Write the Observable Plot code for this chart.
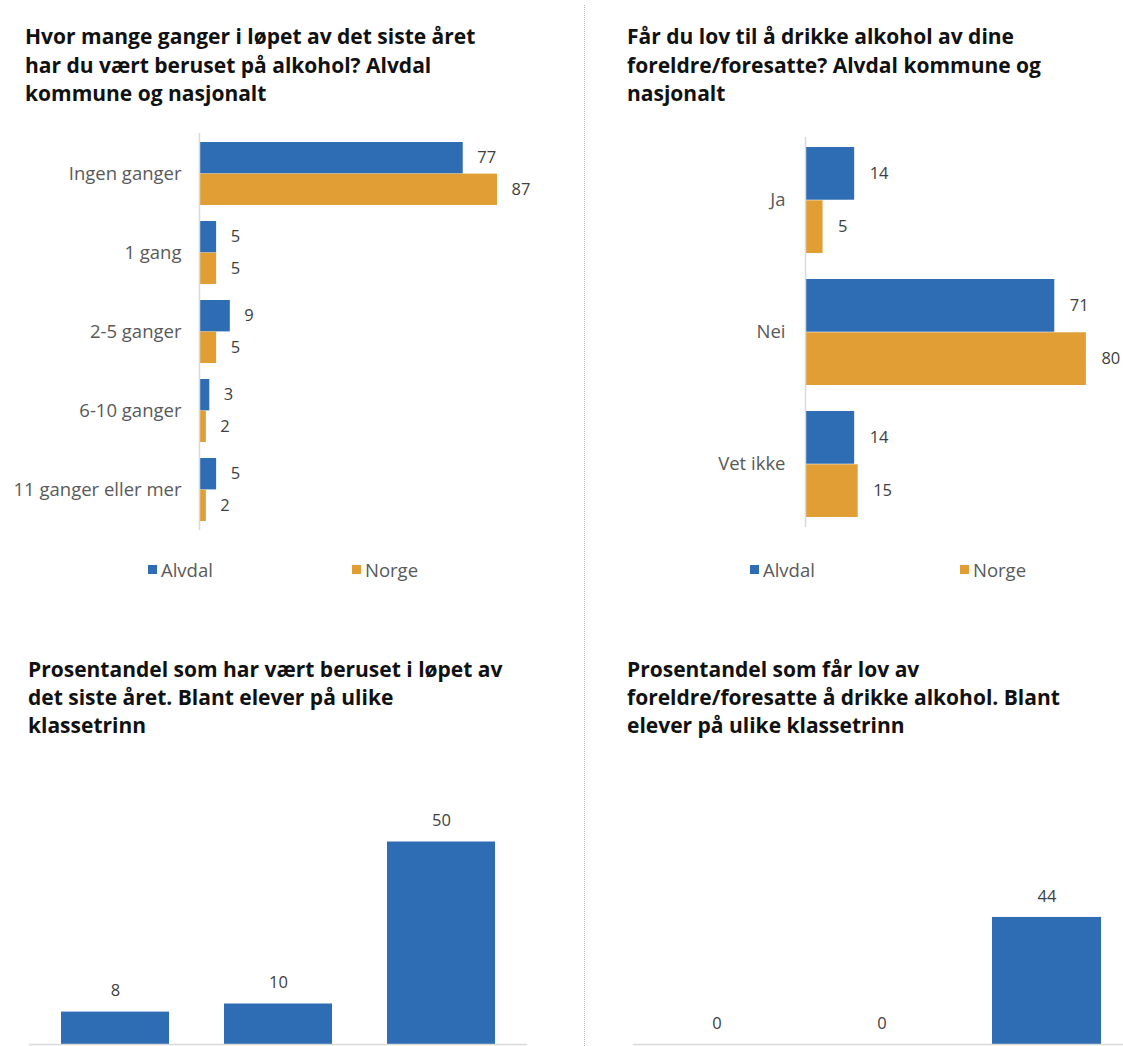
<!DOCTYPE html>
<html>
<head>
<meta charset="utf-8">
<script src="https://cdn.jsdelivr.net/npm/d3@7"></script>
<script src="https://cdn.jsdelivr.net/npm/@observablehq/plot@0.6"></script>
<style>
  html, body { margin: 0; padding: 0; background: #fff; overflow: hidden; }
  #root { position: relative; width: 1123px; height: 1046px; overflow: hidden; background: #fff; }
  .title { position: absolute; font-family: "Open Sans", sans-serif; font-weight: bold; font-size: 21px; color: #111; white-space: nowrap; }
  .legend { position: absolute; font-family: "Open Sans", sans-serif; font-size: 18.5px; color: #595959; display: flex; align-items: center; }
  .legend .sw { display: inline-block; width: 9px; height: 9px; margin-right: 4px; }
  .chart { position: absolute; }
  #divider { position: absolute; left: 584px; top: 5px; height: 1041px; border-left: 1px dotted #b8b8b8; }
</style>
</head>
<body>
<div id="root">
  <div id="divider"></div>
  <div class="title" style="left:25px;top:22px;line-height:28.5px">Hvor mange ganger i løpet av det siste året<br>har du vært beruset på alkohol? Alvdal<br>kommune og nasjonalt</div>
  <div class="title" style="left:627px;top:22px;line-height:28.5px">Får du lov til å drikke alkohol av dine<br>foreldre/foresatte? Alvdal kommune og<br>nasjonalt</div>
  <div class="title" style="left:28px;top:655px;line-height:28px">Prosentandel som har vært beruset i løpet av<br>det siste året. Blant elever på ulike<br>klassetrinn</div>
  <div class="title" style="left:627px;top:655px;line-height:28px">Prosentandel som får lov av<br>foreldre/foresatte å drikke alkohol. Blant<br>elever på ulike klassetrinn</div>
</div>
<script>
// ---- data ----
const series = ["Alvdal", "Norge"];
const seriesColors = ["#2E6DB4", "#E09E35"];

const catsDrunk = ["Ingen ganger", "1 gang", "2-5 ganger", "6-10 ganger", "11 ganger eller mer"];
const alvdalDrunk = [77, 5, 9, 3, 5];
const norgeDrunk = [87, 5, 5, 2, 2];

const catsAllowed = ["Ja", "Nei", "Vet ikke"];
const alvdalAllowed = [14, 71, 14];
const norgeAllowed = [5, 80, 15];

const grades = ["8. trinn", "9. trinn", "10. trinn"];
const drunkByGrade = [8, 10, 50];
const allowedByGrade = [0, 0, 44];

// ---- helpers ----
const root = document.getElementById("root");
const labelFont = "'Open Sans', sans-serif";
const gray = "#595959";
const axisGray = "#d9d9d9";

function place(el, left, top) {
  el.classList.add("chart");
  el.style.left = left + "px";
  el.style.top = top + "px";
  root.appendChild(el);
}

function groupedBars(o) {
  const rows = [];
  o.cats.forEach((c, i) => {
    rows.push({cat: c, series: series[0], value: o.a[i]});
    rows.push({cat: c, series: series[1], value: o.n[i]});
  });
  const bw = d3.scaleBand().domain(o.cats)
    .range([o.marginTop, o.height - o.marginBottom])
    .paddingInner(o.pi).paddingOuter(o.po).bandwidth();
  const A = rows.filter(d => d.series === series[0]);
  const N = rows.filter(d => d.series === series[1]);
  const chart = Plot.plot({
    width: o.width, height: o.height,
    marginLeft: o.marginLeft, marginRight: o.marginRight,
    marginTop: o.marginTop, marginBottom: o.marginBottom,
    style: {fontFamily: labelFont, color: gray, background: "transparent", overflow: "visible"},
    x: {domain: [0, o.xMax], axis: null},
    y: {domain: o.cats, paddingInner: o.pi, paddingOuter: o.po},
    marks: [
      Plot.barX(A, {x: "value", y: "cat", fill: seriesColors[0], insetBottom: bw / 2}),
      Plot.barX(N, {x: "value", y: "cat", fill: seriesColors[1], insetTop: bw / 2}),
      Plot.ruleX([0], {stroke: axisGray, strokeWidth: 1.5}),
      Plot.text(A, {x: "value", y: "cat", text: d => String(d.value), dy: -bw / 4, dx: o.dx, textAnchor: "start", fontSize: 16.5, fill: "#404040"}),
      Plot.text(N, {x: "value", y: "cat", text: d => String(d.value), dy: bw / 4, dx: o.dx, textAnchor: "start", fontSize: 16.5, fill: "#404040"}),
      Plot.axisY({tickSize: 0, tickPadding: o.tickPadding, fontSize: 18.5, label: null})
    ]
  });
  return chart;
}

function columns(o) {
  const rows = o.cats.map((c, i) => ({cat: c, value: o.values[i]}));
  return Plot.plot({
    width: o.width, height: o.height,
    marginLeft: o.marginLeft, marginRight: o.marginRight,
    marginTop: o.marginTop, marginBottom: o.marginBottom,
    style: {fontFamily: labelFont, color: gray, background: "transparent", overflow: "visible"},
    x: {type: "band", domain: o.cats, paddingInner: 0.337, paddingOuter: o.po, axis: null},
    y: {domain: [0, o.yMax], axis: null},
    marks: [
      Plot.barY(rows, {x: "cat", y: "value", fill: seriesColors[0]}),
      Plot.ruleY([0], {stroke: axisGray, strokeWidth: 1.5}),
      Plot.text(rows, {x: "cat", y: "value", text: d => String(d.value), dy: -21, fontSize: 16.5, fill: "#404040"})
    ]
  });
}

function legend(left, gap, top) {
  const div = document.createElement("div");
  div.className = "legend";
  div.style.left = left + "px";
  div.style.top = top + "px";
  series.forEach((s, i) => {
    const item = document.createElement("span");
    item.style.display = "inline-flex";
    item.style.alignItems = "center";
    item.style.width = (i === 0 ? gap : 90) + "px";
    const sw = document.createElement("span");
    sw.className = "sw";
    sw.style.background = seriesColors[i];
    item.appendChild(sw);
    item.appendChild(document.createTextNode(s));
    div.appendChild(item);
  });
  root.appendChild(div);
}

// ---- top-left ----
place(groupedBars({
  cats: catsDrunk, a: alvdalDrunk, n: norgeDrunk,
  width: 584, height: 540, marginLeft: 199, marginRight: 42.5, marginTop: 133, marginBottom: 10,
  xMax: 100, pi: 0.2, po: 0.1125, tickPadding: 18, dx: 14
}), 0, 0);

// ---- top-right ----
place(groupedBars({
  cats: catsAllowed, a: alvdalAllowed, n: norgeAllowed,
  width: 539, height: 540, marginLeft: 221, marginRight: 2, marginTop: 137, marginBottom: 13,
  xMax: 90, pi: 0.197, po: 0.068, tickPadding: 20, dx: 15
}), 584, 0);

legend(148, 204, 557);
legend(750, 210, 557);

// ---- bottom-left ----
place(columns({
  cats: grades, values: drunkByGrade,
  width: 560, height: 256, marginLeft: 29, marginRight: 33, marginTop: 11, marginBottom: 2,
  yMax: 60, po: 0.19
}), 0, 790);

// ---- bottom-right ----
place(columns({
  cats: grades, values: allowedByGrade,
  width: 546, height: 256, marginLeft: 49, marginRight: 0, marginTop: 23, marginBottom: 2,
  yMax: 80, po: 0.167
}), 584, 790);
</script>
</body>
</html>
